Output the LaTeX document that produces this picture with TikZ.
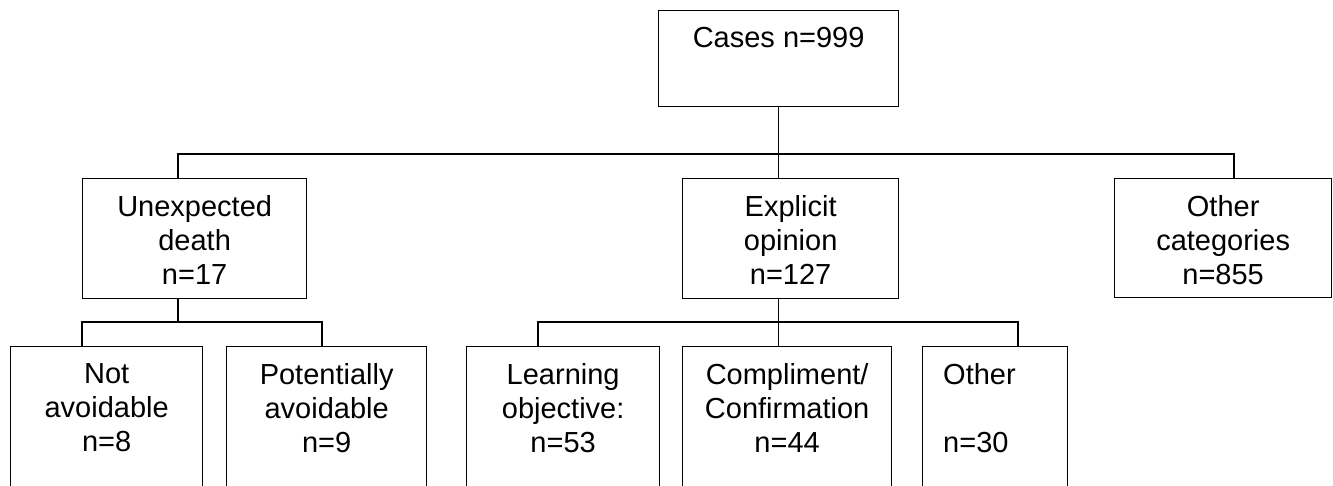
\documentclass[tikz,border=0pt]{standalone}
\usepackage{fontspec}
\setmainfont{Liberation Sans}
\begin{document}
\begin{tikzpicture}[x=1pt,y=-1pt,
  box/.style={draw, line width=1.3pt, rectangle, inner sep=0pt, anchor=north west},
  txt/.style={font=\fontsize{29}{34}\selectfont, align=center, anchor=north, inner sep=0pt},
  txtl/.style={font=\fontsize{29}{34}\selectfont, align=left, anchor=north west, inner sep=0pt},
  conn/.style={line width=1.3pt}]
\useasboundingbox (0,0) rectangle (1333,486);
\clip (0,0) rectangle (1333,486);
% boxes
\node[box, minimum width=240pt, minimum height=96pt]  (top) at (658,10) {};
\node[box, minimum width=224pt, minimum height=120pt] (ud)  at (82,178) {};
\node[box, minimum width=216pt, minimum height=120pt] (eo)  at (682,178) {};
\node[box, minimum width=217pt, minimum height=119pt] (oc)  at (1114,178) {};
\node[box, minimum width=192pt, minimum height=170pt] (na)  at (10,346) {};
\node[box, minimum width=200pt, minimum height=170pt] (pa)  at (226,346) {};
\node[box, minimum width=193pt, minimum height=170pt] (lo)  at (466,346) {};
\node[box, minimum width=209pt, minimum height=170pt] (cc)  at (682,346) {};
\node[box, minimum width=145pt, minimum height=170pt] (ot)  at (922,346) {};
% texts
\node[txt] (topt) at ([yshift=-17pt]top.north) {Cases n=999};
\node[txt] (udt) at ([yshift=-17pt]ud.north) {Unexpected\\death\\n=17};
\node[txt] (eot) at ([yshift=-17pt]eo.north) {Explicit\\opinion\\n=127};
\node[txt] (oct) at ([yshift=-17pt]oc.north) {Other\\categories\\n=855};
\node[txt] (nat) at ([yshift=-17pt]na.north) {Not\\avoidable\\n=8};
\node[txt] (pat) at ([yshift=-17pt]pa.north) {Potentially\\avoidable\\n=9};
\node[txt] (lot) at ([yshift=-17pt]lo.north) {Learning\\objective:\\n=53};
\node[txt] (cct) at ([yshift=-17pt]cc.north) {Compliment/\\Confirmation\\n=44};
\node[txtl] (ott) at ([xshift=21pt,yshift=-17pt]ot.north west) {Other\\\mbox{}\\n=30};
% bar coordinates
\coordinate (b0) at (178,154);
\coordinate (b1) at (1234,154);
\coordinate (c0) at (82,322);
\coordinate (c1) at (322,322);
\coordinate (d0) at (538,322);
\coordinate (d1) at (1018,322);
% connectors
\draw[conn] (top.south) -- (top.south |- eo.north);
\draw[conn] (ud.north -| b0) -- (b0) -- (b1) -- (oc.north -| b1);
\draw[conn] (ud.south -| b0) -- (b0 |- c0);
\draw[conn] (na.north -| c0) -- (c0) -- (c1) -- (pa.north -| c1);
\draw[conn] (eo.south -| top.south) -- (cc.north -| top.south);
\draw[conn] (lo.north -| d0) -- (d0) -- (d1) -- (ot.north -| d1);
\end{tikzpicture}
\end{document}
